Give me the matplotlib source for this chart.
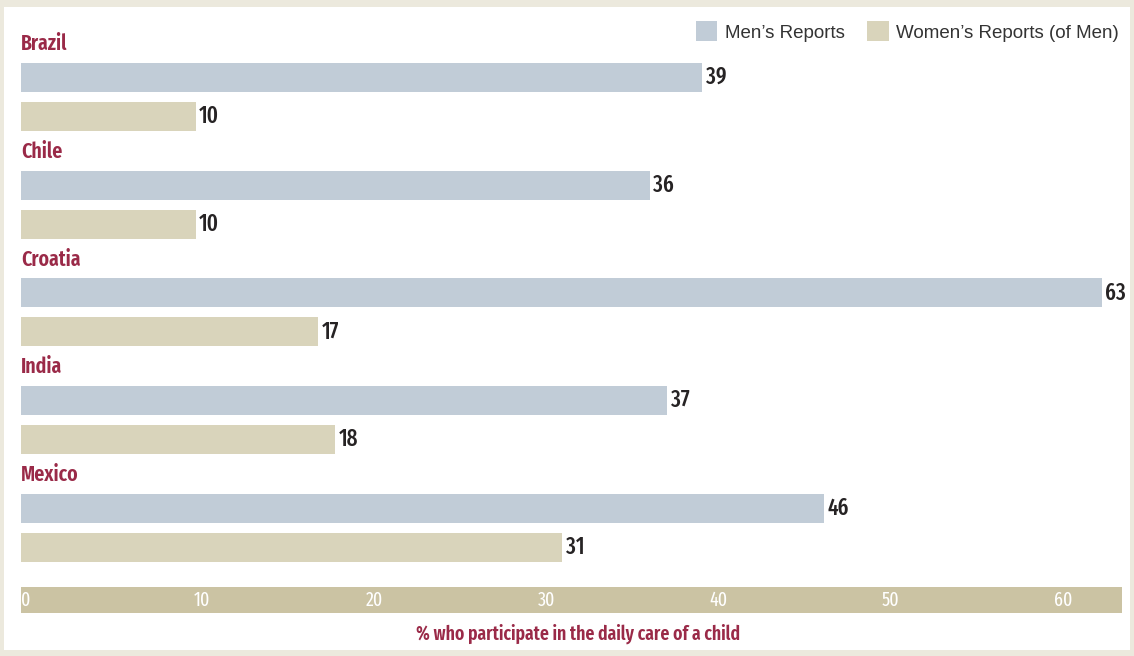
import matplotlib
matplotlib.use("Agg")
import matplotlib.pyplot as plt
from matplotlib.patches import Patch
from matplotlib import font_manager as fm
import numpy as np

countries = ["Brazil", "Chile", "Croatia", "India", "Mexico"]
mens_reports = [39, 36, 63, 37, 46]
womens_reports = [10, 10, 17, 18, 31]
series_names = ["Men\u2019s Reports", "Women\u2019s Reports (of Men)"]
tick_values = [0, 10, 20, 30, 40, 50, 60]
axis_title = "% who participate in the daily care of a child"

C_MEN = "#C1CCD7"
C_WOMEN = "#D9D4BB"
C_BAND = "#CBC3A3"
C_LABEL = "#9A2A48"
C_BG = "#ECE9DD"
C_TEXT = "#262324"


def _stretch_val(s):
    m = {"ultra-condensed": 100, "extra-condensed": 200, "condensed": 300,
         "semi-condensed": 400, "normal": 500}
    if isinstance(s, (int, float)):
        return s
    return m.get(s, 500)


def _weight_val(w):
    if isinstance(w, (int, float)):
        return w
    m = {"normal": 400, "regular": 400, "book": 400, "medium": 500,
         "semibold": 600, "demibold": 600, "bold": 700, "heavy": 800,
         "black": 900, "light": 300}
    return m.get(str(w).lower(), 400)


def narrow_font(target_weight):
    cands = []
    for f in fm.fontManager.ttflist:
        if f.style != "normal":
            continue
        st = _stretch_val(f.stretch)
        nm = (f.name + " " + f.fname).lower().replace(" ", "").replace("-", "")
        if st < 500 or "narrow" in nm or "condensed" in nm:
            score = st
            if "extracondensed" in nm or "ultracondensed" in nm:
                score -= 200
            elif "semicondensed" in nm:
                score += 60
            elif "condensed" in nm or "narrow" in nm:
                score -= 50
            wv = _weight_val(f.weight)
            fn = f.fname.lower()
            if "semibold" in fn:
                wv = 600
            elif "extrabold" in fn:
                wv = 800
            elif "bold" in fn:
                wv = 700
            elif "medium" in fn:
                wv = 500
            elif "light" in fn or "thin" in fn:
                wv = 300
            score += abs(wv - target_weight) / 5
            cands.append((score, f.fname))
    if cands:
        cands.sort()
        return cands[0][1]
    return None


NB = narrow_font(600)
NM = narrow_font(500)
NR = narrow_font(400)


def fp(size, path):
    if path:
        return fm.FontProperties(fname=path, size=size)
    return fm.FontProperties(family="DejaVu Sans", size=size)


W, H = 1134, 656
fig = plt.figure(figsize=(W / 100, H / 100), dpi=100, facecolor=C_BG)


def fr(x0, y0, x1, y1):
    return [x0 / W, 1 - y1 / H, (x1 - x0) / W, (y1 - y0) / H]


# white panel
panel = fig.add_axes(fr(4, 7, 1130, 650), zorder=-5)
panel.set_facecolor("white")
panel.set_xticks([])
panel.set_yticks([])
for s in panel.spines.values():
    s.set_visible(False)

ax = fig.add_axes(fr(21, 7, 1102, 580), zorder=1)
ax.set_facecolor("none")
xmax = 61.9
ax.set_xlim(0, xmax)
ax.set_ylim(4.664, -0.654)
for s in ax.spines.values():
    s.set_visible(False)
ax.set_xticks([])
ax.set_yticks([])

idx = np.arange(len(countries))
off = 0.362
bh = 0.269
ax.barh(idx, mens_reports, height=bh, color=C_MEN)
ax.barh(idx + off, womens_reports, height=bh, color=C_WOMEN)

for i, c in enumerate(countries):
    ax.text(0, i - 0.31, c, ha="left", va="center", color=C_LABEL,
            fontproperties=fp(15.5, NB))
    for v, y in ((mens_reports[i], i), (womens_reports[i], i + off)):
        ax.annotate(str(v), (min(v, xmax), y), xytext=(2.5, 0),
                    textcoords="offset points", ha="left", va="center",
                    fontproperties=fp(16.5, NM),
                    color=C_TEXT, annotation_clip=False)

# band axis
bx = fig.add_axes(fr(21, 587, 1122, 613), zorder=1)
bx.set_facecolor(C_BAND)
bx.set_xlim(0, 64)
bx.set_ylim(0, 1)
for s in bx.spines.values():
    s.set_visible(False)
bx.set_xticks([])
bx.set_yticks([])
for t in tick_values:
    bx.text(t + 0.02, 0.5, str(t), ha="left", va="center", color="white",
            fontproperties=fp(14, NR))

fig.text(578 / W, 1 - 634 / H, axis_title, ha="center", va="center",
         color=C_LABEL, fontproperties=fp(13.8, NB))

handles = [Patch(facecolor=C_MEN), Patch(facecolor=C_WOMEN)]
fig.legend(handles, series_names, loc="upper right",
           bbox_to_anchor=(1119 / W, 1 - 21 / H), ncol=2, frameon=False,
           borderaxespad=0, borderpad=0, handlelength=1.15, handleheight=1.3,
           handletextpad=0.4, columnspacing=1.2,
           prop={"family": ["Liberation Sans", "DejaVu Sans"], "size": 13.5},
           labelcolor="#333333")

fig.savefig("out.png", dpi=100, facecolor=C_BG)
